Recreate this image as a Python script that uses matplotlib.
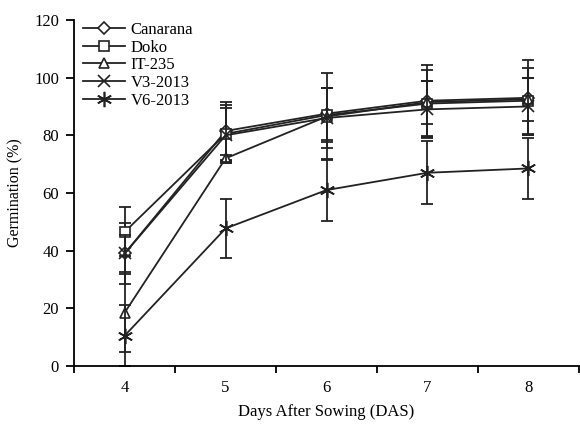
import matplotlib.pyplot as plt

plt.rcParams['font.family'] = 'Liberation Serif'

days = [4, 5, 6, 7, 8]
series = ['Canarana', 'Doko', 'IT-235', 'V3-2013', 'V6-2013']

canarana = [39, 81.5, 87.5, 92, 93]
doko = [46.5, 80.5, 87, 91, 92]
it235 = [18.5, 72, 86.5, 91.5, 92.5]
v3 = [39, 80, 86, 89, 90]
v6 = [10.5, 47.7, 61, 67, 68.5]

canarana_err = [10.5, 10, 9, 12.4, 13]
doko_err = [8.5, 10, 9.5, 11.7, 11.5]
it235_err = [13.5, 1, 15, 7.5, 7.5]
v3_err = [6.5, 9.3, 10.5, 10, 10]
v6_err = [10.5, 10.3, 10.7, 11, 10.6]

values = [canarana, doko, it235, v3, v6]
errors = [canarana_err, doko_err, it235_err, v3_err, v6_err]
markers = ['D', 's', '^', 'x', (6, 2, 0)]
msizes = [6.5, 7.5, 7.5, 9, 11]

fig = plt.figure(figsize=(5.8, 4.25), dpi=100)
ax = fig.add_axes([0.128, 0.139, 0.87, 0.814])

for name, y, e, m, ms in zip(series, values, errors, markers, msizes):
    # error bars first, then the line with markers (used for the legend)
    ax.errorbar(days, y, yerr=e, fmt='none', ecolor='#222222', elinewidth=1.3,
                capsize=4.5, capthick=1.3)
    ax.plot(days, y, color='#222222', lw=1.3, marker=m, markersize=ms,
            markerfacecolor='white', markeredgecolor='#222222',
            markeredgewidth=1.2, label=name)

ax.set_xlim(3.5, 8.5)
ax.set_ylim(0, 120)
ax.set_yticks(range(0, 121, 20))
ax.set_xticks(days)
ax.set_xticks([3.5, 4.5, 5.5, 6.5, 7.5, 8.5], minor=True)
ax.tick_params(axis='x', which='major', length=0, labelsize=12, pad=10)
ax.tick_params(axis='x', which='minor', length=5, width=1.3, direction='out')
ax.tick_params(axis='y', length=6, width=1.3, labelsize=12, pad=5)

ax.spines['top'].set_visible(False)
ax.spines['right'].set_visible(False)
ax.spines['left'].set_linewidth(1.3)
ax.spines['bottom'].set_linewidth(1.3)

ax.set_xlabel('Days After Sowing (DAS)', fontsize=12, labelpad=6)
ax.set_ylabel('Germination (%)', fontsize=11.5, labelpad=8)

ax.legend(loc='upper left', bbox_to_anchor=(83 / 580, 1 - 22 / 425),
          bbox_transform=fig.transFigure, frameon=False, fontsize=12,
          handlelength=2.5, handletextpad=0.35, labelspacing=0.1,
          borderpad=0, borderaxespad=0)

fig.savefig('out.png', dpi=100)
